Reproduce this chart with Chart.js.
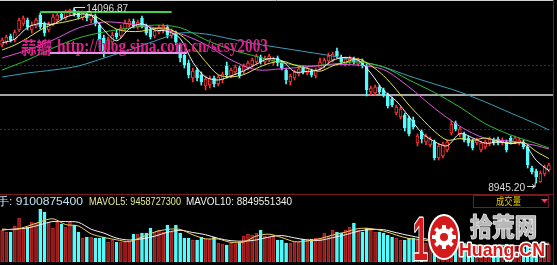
<!DOCTYPE html>
<html>
<head>
<meta charset="utf-8">
<script src="https://cdn.jsdelivr.net/npm/chart.js@4.4.1/dist/chart.umd.min.js"></script>
<style>
  html, body { margin: 0; padding: 0; background: #000; overflow: hidden; }
  canvas { display: block; }
</style>
</head>
<body>
<canvas id="kline" width="557" height="265"></canvas>
<script>
// --- DATA (index points) ---
const opens = [13007,13095,13272,13154,13449,13625,13743,13449,13567,13890,
  13625,13449,13625,13743,13920,13802,13949,14038,13949,13802,
  13920,13743,13861,13596,13213,12860,13095,13360,13272,13478,
  13596,13714,13537,13802,13567,13449,13272,13390,13449,13537,
  13272,13360,13007,12713,12477,12036,12271,12124,11800,11830,
  12036,11859,11977,12389,12095,12212,12330,12212,12330,12418,
  12507,12654,12507,12566,12477,12624,12477,12271,11918,12036,
  12153,12330,12183,12242,12095,12330,12389,12536,12566,12831,
  12654,12448,12507,12595,12448,12536,12389,11624,11594,11771,
  11682,11535,11417,11005,10888,10946,10858,10799,10123,10446,
  10152,10064,10152,9681,9740,9916,10417,10711,10358,10388,
  10270,10182,10123,9916,10005,10093,10211,10240,10123,10152,
  10270,10152,10123,10152,10005,9386,9298,8974,9209,9327];
const closes = [13154,13243,13154,13390,13743,13802,13537,13596,13743,13537,
  13360,13625,13832,13890,13802,13979,14038,13920,13832,13949,
  13802,13890,13625,13154,12801,13154,13302,13243,13508,13655,
  13714,13567,13684,13537,13360,13243,13419,13537,13567,13302,
  13419,13095,12624,12418,12124,12242,12036,11918,12006,12036,
  11859,12065,12153,12124,12271,12360,12095,12389,12477,12566,
  12683,12507,12624,12683,12595,12477,12330,11977,12095,12212,
  12301,12212,12330,12124,12271,12507,12566,12683,12742,12683,
  12507,12595,12624,12507,12566,12389,11682,11741,11771,11624,
  11535,11211,11241,11182,11123,10564,10388,10593,10329,10240,
  10329,10240,9681,10034,10093,10152,10682,10535,10535,10211,
  10123,9975,10211,10123,10152,10240,10123,10123,10211,9916,
  10152,10270,10211,10005,9474,9268,9121,9239,9415,9474];
const highs = [13213,13302,13331,13449,13802,13861,13802,13684,13802,13949,
  13684,13684,13920,13979,13979,14038,14067,14096.87,14008,14008,
  13979,13949,13920,13655,13302,13243,13390,13449,13596,13743,
  13773,13773,13743,13861,13625,13508,13478,13596,13625,13596,
  13478,13419,13066,12801,12566,12330,12330,12212,12095,12095,
  12095,12124,12212,12507,12330,12418,12389,12448,12536,12624,
  12742,12713,12683,12742,12654,12683,12536,12330,12153,12271,
  12360,12389,12389,12301,12330,12624,12624,12772,12801,12919,
  12713,12654,12683,12654,12624,12595,12448,11800,11830,11830,
  11741,11594,11476,11241,11182,11005,10917,10888,10388,10505,
  10388,10299,10211,10093,10152,10211,10770,10770,10593,10446,
  10329,10240,10270,10182,10211,10299,10270,10299,10270,10211,
  10329,10329,10270,10211,10064,9445,9357,9298,9474,9533];
const lows = [12948,13037,13095,13095,13390,13567,13449,13360,13508,13478,
  13272,13390,13567,13684,13743,13743,13890,13861,13773,13743,
  13714,13655,13567,12919,12654,12772,13007,13184,13213,13419,
  13537,13508,13478,13508,13302,13184,13213,13331,13360,13213,
  13213,13007,12507,12330,12036,11918,11947,11830,11682,11741,
  11771,11800,11888,12036,12036,12153,12036,12153,12271,12360,
  12448,12448,12448,12507,12418,12389,12271,11859,11830,11977,
  12095,12153,12124,12065,12036,12271,12330,12477,12507,12624,
  12448,12389,12448,12448,12389,12330,11506,11535,11535,11565,
  11476,11152,11182,10946,10829,10476,10329,10535,10034,10123,
  10064,10005,9622,9622,9681,9857,10358,10476,10299,10152,
  10034,9916,10064,9857,9946,10034,10064,10064,10064,9857,
  10093,10093,10064,9946,9386,9209,8945.20,8960,9150,9268];

// volume, in units of 1e8
const vols = [160,150,150,180,220,170,175,200,195,265,
  250,200,170,200,190,175,200,185,150,120,
  125,125,120,120,125,100,110,100,100,100,
  100,140,140,145,145,170,150,160,150,185,
  150,185,145,120,120,110,110,125,115,115,
  125,95,90,85,95,90,100,130,140,135,
  145,160,130,125,135,110,110,95,95,100,
  100,115,115,115,120,120,145,130,160,150,
  145,160,175,195,160,150,170,160,150,150,
  145,135,125,120,110,110,120,120,110,100,
  95,90,100,90,85,80,70,65,80,95,
  90,90,80,75,80,85,85,80,80,90,
  85,80,85,67,95,85,100,95,102,91.008754];

// moving averages as [candle index, value]
const ma5 = [[0,13066],[3,13184],[6,13525],[9,13643],[12,13620],[15,13826],[18,13914],[21,13879],
  [24,13455],[27,13131],[30,13484],[33,13631],[36,13449],[39,13413],[42,13202],[45,12501],
  [48,12065],[51,11977],[54,12095],[57,12248],[60,12442],[63,12613],[66,12542],[69,12218],
  [72,12230],[75,12289],[78,12554],[81,12642],[84,12560],[87,12177],[90,11671],[93,11359],
  [96,10899],[99,10422],[102,10163],[105,10040],[108,10399],[111,10275],[114,10116],[117,10152],
  [120,10104],[123,10110],[126,9616],[129,9304]];
const ma10 = [[0,12860],[3,13007],[6,13213],[9,13449],[12,13617],[15,13690],[18,13781],[21,13893],
  [24,13699],[27,13475],[30,13405],[33,13416],[36,13493],[39,13493],[42,13310],[45,12975],
  [48,12518],[51,12133],[54,12071],[57,12136],[60,12318],[63,12466],[66,12533],[69,12418],
  [72,12321],[75,12236],[78,12395],[81,12501],[84,12598],[87,12404],[90,12103],[93,11694],
  [96,11238],[99,10840],[102,10467],[105,10207],[108,10252],[111,10202],[114,10269],[117,10181],
  [120,10122],[123,10140],[126,9875],[129,9663]];
const ma20 = [[0,12624],[6,12860],[12,13154],[18,13508],[24,13684],[30,13634],[36,13517],[42,13343],
  [48,13022],[54,12571],[60,12277],[66,12309],[72,12365],[78,12424],[84,12415],[90,12283],
  [96,11771],[102,11147],[108,10614],[114,10258],[120,10175],[126,10048],[129,9945]];
const ma30 = [[0,12271],[6,12566],[12,12919],[18,13213],[24,13390],[30,13508],[36,13593],[42,13519],
  [48,13163],[54,12872],[60,12672],[66,12486],[72,12389],[78,12448],[84,12507],[90,12360],
  [96,11977],[102,11609],[108,11179],[114,10690],[120,10358],[126,10110],[129,9975]];
const ma60 = [[0,12065],[6,12183],[12,12271],[18,12389],[24,12624],[30,12860],[36,13125],[42,13360],
  [48,13331],[54,13184],[60,13037],[66,12919],[72,12801],[78,12683],[84,12536],[90,12360],
  [96,12095],[102,11859],[108,11624],[114,11329],[120,11005],[126,10682],[129,10505]];
const mavol5 = [[0,165],[3,162],[6,179],[9,201],[12,216],[15,187],[18,180],[21,141],[24,123],[27,111],
  [30,102],[33,125],[36,150],[39,163],[42,163],[45,136],[48,116],[51,115],[54,98],[57,100],
  [60,130],[63,139],[66,122],[69,102],[72,105],[75,117],[78,135],[81,149],[84,167],[87,167],
  [90,155],[93,135],[96,117],[99,112],[102,99],[105,89],[108,76],[111,84],[114,83],[117,81],
  [120,84],[123,81.4],[126,86.4],[129,94.587273]];
const mavol10 = [[0,160],[3,165],[6,170],[9,186.5],[12,202.5],[15,202],[18,198.5],[21,164],[24,144.5],
  [27,119.5],[30,110],[33,116],[36,129],[39,148.5],[42,158.5],[45,147.5],[48,136.5],[51,118],
  [54,106.5],[57,104],[60,110.5],[63,125],[66,132],[69,120.5],[72,110],[75,108.5],[78,122],
  [81,136],[84,154],[87,162.5],[90,161.5],[93,146.5],[96,132.5],[99,119.5],[102,107.5],[105,99],
  [108,85.5],[111,84.5],[114,80.5],[117,84],[120,83],[123,81.7],[126,84.7],[129,88.4955134]];

// drawn lines: top-high line, horizontal line, grid levels
const highLine = [[9,13979],[40,13979]];
const flatLevel = 11536;
const gridLevels = [12419, 10535];
const highMark = { index: 17, value: 14096.87 };
const lowMark = { index: 126, value: 8945.20 };

// --- CONSTANTS ---
const UP = "#ff3232";
const DOWN = "#54fcfc";
const VOL_UNIT = 1e8;

const idx = opens.map((_, i) => i);
const isUp = opens.map((o, i) => closes[i] >= o);
const pts = (arr) => arr.map(([x, y]) => ({ x, y }));
const last = (arr) => arr[arr.length - 1][1];

function fitText(ctx, text, x, y, width, font, fill, stroke, lw) {
  ctx.save();
  ctx.font = font;
  const w = ctx.measureText(text).width;
  ctx.translate(x, y);
  ctx.scale(width / w, 1);
  if (stroke) {
    ctx.lineJoin = "round";
    ctx.lineWidth = lw;
    ctx.strokeStyle = stroke;
    ctx.strokeText(text, 0, 0);
  }
  ctx.fillStyle = fill;
  ctx.fillText(text, 0, 0);
  ctx.restore();
}

function drawLogo(ctx) {
  // "1"
  fitText(ctx, "1", 413, 260, 15, 'bold 62px "Liberation Sans"', "#d41a1a", "#ffffff", 3);
  // gear "0"
  ctx.save();
  ctx.beginPath();
  ctx.ellipse(444, 237, 15, 22, 0, 0, Math.PI * 2);
  ctx.fillStyle = "#d41a1a";
  ctx.fill();
  ctx.lineWidth = 2;
  ctx.strokeStyle = "#ffffff";
  ctx.stroke();
  ctx.fillStyle = "#ffffff";
  ctx.beginPath();
  ctx.arc(444, 237, 9, 0, Math.PI * 2);
  ctx.fill();
  for (let k = 0; k < 8; k++) {
    const a = (k * Math.PI) / 4;
    ctx.save();
    ctx.translate(444 + Math.cos(a) * 10, 237 + Math.sin(a) * 10);
    ctx.rotate(a);
    ctx.fillRect(-2, -2, 4, 4);
    ctx.restore();
  }
  ctx.fillStyle = "#d41a1a";
  ctx.beginPath();
  ctx.arc(444, 237, 4, 0, Math.PI * 2);
  ctx.fill();
  ctx.restore();
  fitText(ctx, "拾荒网", 470, 236, 67, 'bold 25px "Noto Sans CJK SC"', "#b8b8b8", "#e8e8e8", 1.5);
  fitText(ctx, "Huang.CN", 459, 256, 86, 'bold 19px "Liberation Sans"', "#d41a1a", "#ffffff", 3);
}

// --- PANEL DECORATION PLUGIN ---
const panelPlugin = {
  id: "panel",
  beforeDraw(chart) {
    const { ctx, width, height } = chart;
    ctx.save();
    ctx.fillStyle = "#000";
    ctx.fillRect(0, 0, width, height);
    ctx.restore();
  },
  beforeDatasetsDraw(chart) {
    const { ctx, scales } = chart;
    const yS = scales.y;
    ctx.save();
    // dotted grid levels
    ctx.strokeStyle = "#6a1a1a";
    ctx.lineWidth = 1;
    ctx.setLineDash([2, 2]);
    gridLevels.forEach((v) => {
      const py = Math.round(yS.getPixelForValue(v)) + 0.5;
      ctx.beginPath();
      ctx.moveTo(0, py);
      ctx.lineTo(553, py);
      ctx.stroke();
    });
    ctx.setLineDash([]);
    // panel separator, right & top border
    ctx.strokeStyle = "#7a1a1a";
    ctx.beginPath();
    ctx.moveTo(0, 194.5);
    ctx.lineTo(553, 194.5);
    ctx.moveTo(553.5, 0);
    ctx.lineTo(553.5, 265);
    ctx.stroke();
    ctx.strokeStyle = "#cfcfcf";
    ctx.beginPath();
    ctx.moveTo(0, 0.5);
    ctx.lineTo(553, 0.5);
    ctx.stroke();
    // drawn horizontal line
    const fy = yS.getPixelForValue(flatLevel);
    ctx.strokeStyle = "#dedede";
    ctx.lineWidth = 1.5;
    ctx.beginPath();
    ctx.moveTo(0, fy);
    ctx.lineTo(553, fy);
    ctx.stroke();
    ctx.restore();
  },
  afterDatasetsDraw(chart) {
    const { ctx, scales } = chart;
    const xS = scales.x, yS = scales.y;
    ctx.save();
    ctx.textBaseline = "alphabetic";

    // high label
    const hx = xS.getPixelForValue(highMark.index);
    const hy = Math.round(yS.getPixelForValue(highMark.value)) - 0.5;
    ctx.strokeStyle = "#dcdcdc";
    ctx.lineWidth = 1;
    ctx.beginPath();
    ctx.moveTo(hx, hy + 3);
    ctx.lineTo(hx, hy);
    ctx.lineTo(hx + 11, hy);
    ctx.stroke();
    fitText(ctx, highMark.value.toFixed(2), hx + 12, hy + 4, 42, '11px "Liberation Sans"', "#dcdcdc");

    // low label
    const lx = xS.getPixelForValue(lowMark.index);
    const ly = Math.round(yS.getPixelForValue(lowMark.value)) + 3.5;
    fitText(ctx, lowMark.value.toFixed(2), lx - 48, ly + 4, 37, '11px "Liberation Sans"', "#dcdcdc");
    ctx.strokeStyle = "#dcdcdc";
    ctx.beginPath();
    ctx.moveTo(lx - 9, ly);
    ctx.lineTo(lx - 1, ly);
    ctx.moveTo(lx - 4, ly - 2);
    ctx.lineTo(lx - 1, ly);
    ctx.lineTo(lx - 4, ly + 2);
    ctx.moveTo(lx - 1, ly);
    ctx.lineTo(lx - 1, ly - 4);
    ctx.stroke();

    // blog watermark
    fitText(ctx, "蒜瓣", 21, 54, 31, 'bold 17px "Noto Sans CJK SC"', "#e02090");
    fitText(ctx, "http://blog.sina.com.cn/scsy2003", 57, 52, 211, 'bold 18px "Liberation Serif"', "#e02090");
    ctx.strokeStyle = "#e890e8";
    ctx.lineWidth = 2;
    ctx.beginPath();
    ctx.moveTo(50, 53);
    ctx.lineTo(187, 53);
    ctx.stroke();

    // volume legend row
    const volTxt = "手: " + Math.round(vols[vols.length - 1] * VOL_UNIT);
    const m5Txt = "MAVOL5: " + Math.round(last(mavol5) * VOL_UNIT);
    const m10Txt = "MAVOL10: " + Math.round(last(mavol10) * VOL_UNIT);
    fitText(ctx, volTxt, -3, 205, 86, '11px "Liberation Sans"', "#bfe4f4");
    fitText(ctx, m5Txt, 89, 205, 92, '11px "Liberation Sans"', "#e8e890");
    fitText(ctx, m10Txt, 186, 205, 106, '11px "Liberation Sans"', "#f0f0f0");

    // 成交量 box
    ctx.strokeStyle = "#7a1a1a";
    ctx.lineWidth = 1;
    ctx.strokeRect(473.5, 195.5, 75, 12);
    fitText(ctx, "成交量", 496, 205, 25, '10px "Noto Sans CJK SC"', "#e8c800");
    ctx.fillStyle = "#ff3080";
    ctx.beginPath();
    ctx.moveTo(541, 199);
    ctx.lineTo(548, 199);
    ctx.lineTo(544.5, 203);
    ctx.closePath();
    ctx.fill();

    drawLogo(ctx);
    ctx.restore();
  }
};

// --- CHART ---
const lineDs = (label, arr, color, axis, width) => ({
  type: "line",
  label,
  data: pts(arr),
  yAxisID: axis,
  borderColor: color,
  borderWidth: width || 1,
  pointRadius: 0,
  tension: 0.3,
  order: 0
});

new Chart(document.getElementById("kline"), {
  data: {
    labels: idx,
    datasets: [
      lineDs("MA5", ma5, "#f4f4f4", "y"),
      lineDs("MA10", ma10, "#e6e64a", "y"),
      lineDs("MA20", ma20, "#e058e0", "y"),
      lineDs("MA30", ma30, "#30c030", "y"),
      lineDs("MA60", ma60, "#3ca0b8", "y"),
      Object.assign(lineDs("high line", highLine, "#44d044", "y", 2), { tension: 0 }),
      lineDs("MAVOL5", mavol5, "#f0d060", "yv"),
      lineDs("MAVOL10", mavol10, "#f4f4f4", "yv"),
      {
        type: "bar",
        label: "body",
        data: opens.map((o, i) => [o, closes[i]]),
        yAxisID: "y",
        grouped: false,
        barThickness: 3,
        backgroundColor: isUp.map((u) => (u ? "#000" : DOWN)),
        borderColor: isUp.map((u) => (u ? UP : DOWN)),
        borderWidth: 1,
        borderSkipped: false,
        order: 1
      },
      {
        type: "bar",
        label: "wick",
        data: lows.map((l, i) => [l, highs[i]]),
        yAxisID: "y",
        grouped: false,
        barThickness: 1,
        backgroundColor: isUp.map((u) => (u ? UP : DOWN)),
        borderWidth: 0,
        order: 2
      },
      {
        type: "bar",
        label: "volume",
        data: vols,
        yAxisID: "yv",
        grouped: false,
        barThickness: 3,
        backgroundColor: isUp.map((u) => (u ? "#8c1a1a" : DOWN)),
        borderColor: isUp.map((u) => (u ? "#c82828" : DOWN)),
        borderWidth: 1,
        borderSkipped: false,
        order: 3
      }
    ]
  },
  options: {
    responsive: false,
    animation: false,
    devicePixelRatio: 1,
    layout: { autoPadding: false, padding: { left: 0, right: 6, top: 0, bottom: 0 } },
    plugins: { legend: { display: false }, tooltip: { enabled: false } },
    scales: {
      x: { type: "category", display: false, offset: true },
      y: { display: false, min: 6530.8, max: 14332.4 },
      yv: { display: false, min: -15, max: 1310 }
    }
  },
  plugins: [panelPlugin]
});
</script>
</body>
</html>
